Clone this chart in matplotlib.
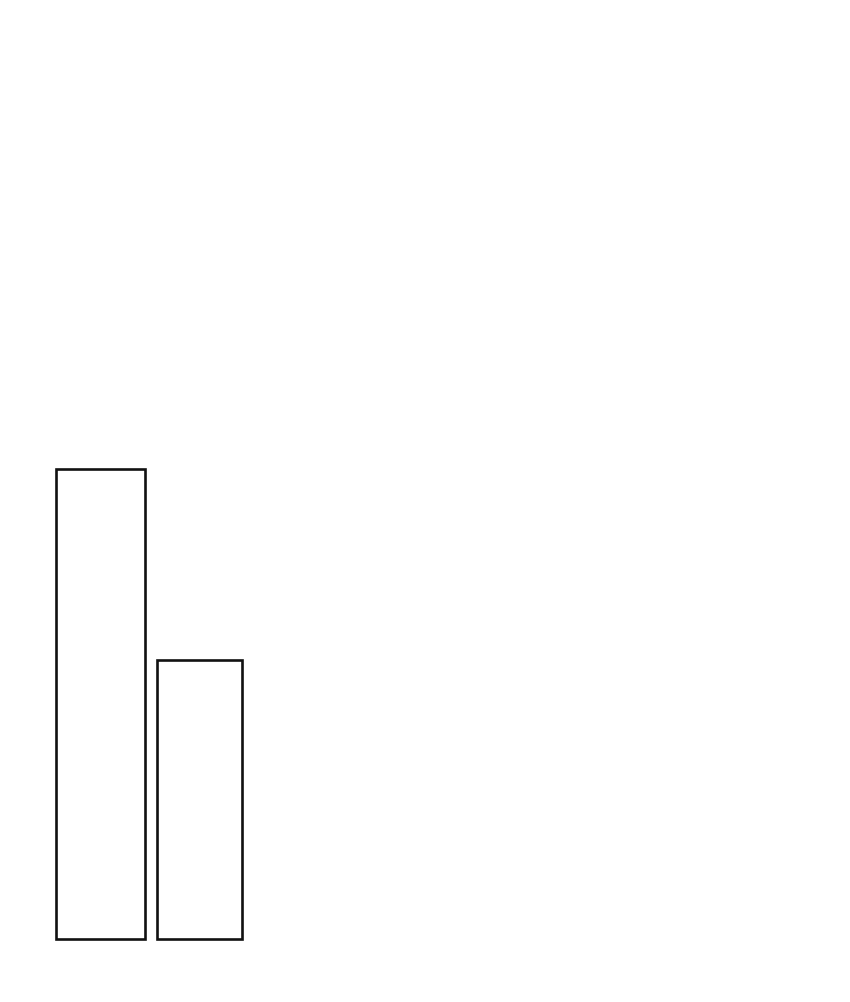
import matplotlib
matplotlib.use("Agg")
import matplotlib.pyplot as plt

# bar data (relative heights)
categories = ["A", "B"]
values = [100, 59.4]
bar_widths = [0.9, 0.86]

fig_w, fig_h, dpi = 850, 1003, 100
fig = plt.figure(figsize=(fig_w / dpi, fig_h / dpi), dpi=dpi)

# axes spans the full width; baseline at 940px from top, value 100 at 470px
bottom = (fig_h - 940) / fig_h
height = (940 - 470) / fig_h
ax = fig.add_axes([0, bottom, 1, height])

bars = ax.bar(
    range(len(categories)),
    values,
    width=bar_widths,
    facecolor="white",
    edgecolor="#111111",
    linewidth=1.9,
)
for b in bars:
    b.set_clip_on(False)

# map pixel columns to category positions (99px between bar centres)
px_per_unit = 99
centre0 = 100.5
ax.set_xlim(-centre0 / px_per_unit, (fig_w - centre0) / px_per_unit)
ax.set_ylim(0, 100)
ax.axis("off")

fig.savefig("out.png", dpi=dpi, facecolor="white")
